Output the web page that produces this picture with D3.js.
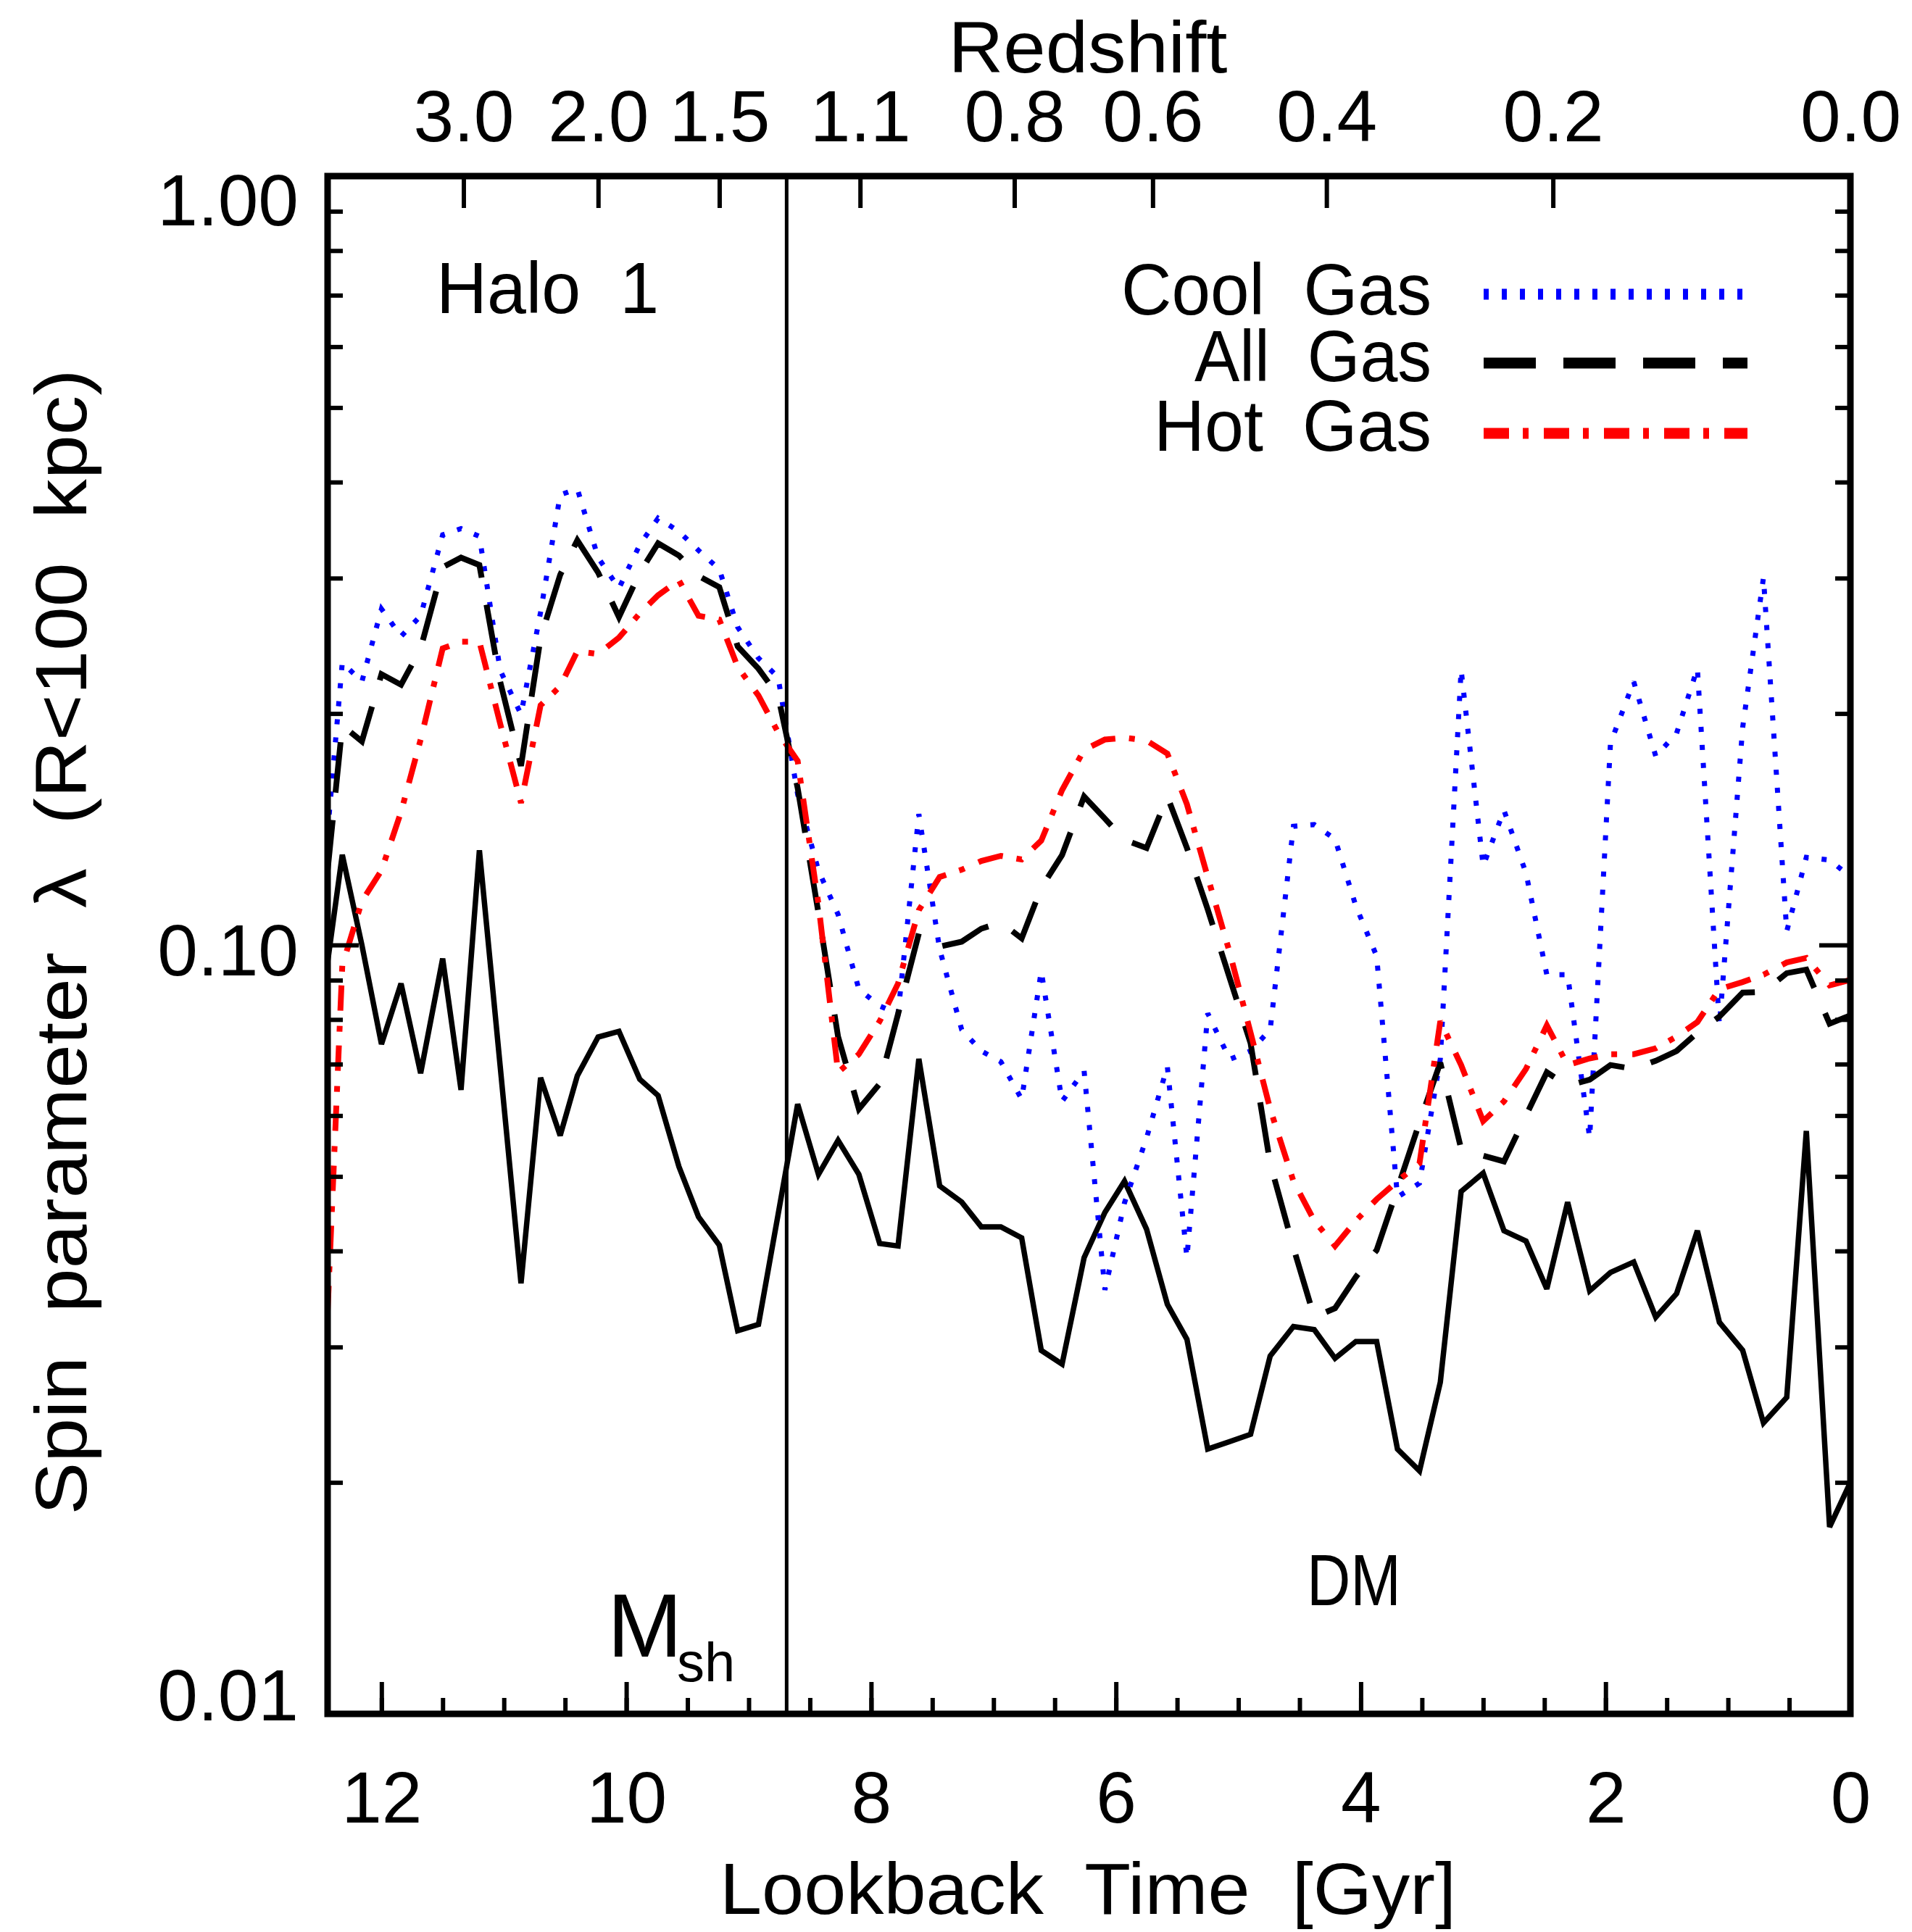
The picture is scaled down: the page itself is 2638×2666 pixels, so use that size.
<!DOCTYPE html>
<html>
<head>
<meta charset="utf-8">
<script src="https://cdn.jsdelivr.net/npm/d3@7"></script>
<style>
  html, body { margin: 0; padding: 0; background: #ffffff; }
  svg text { font-family: "Liberation Sans", Arial, sans-serif; fill: #000; }
</style>
</head>
<body>
<svg id="chart" width="2638" height="2666"></svg>
<script>
// Lookback time of each snapshot [Gyr]
const lookbackTime = [12.44, 12.32, 12.16, 12.00, 11.84, 11.68, 11.50, 11.35, 11.20, 11.03,
  10.86, 10.70, 10.54, 10.40, 10.23, 10.06, 9.89, 9.74, 9.57, 9.41,
  9.24, 9.09, 8.92, 8.76, 8.60, 8.43, 8.27, 8.10, 7.93, 7.78,
  7.61, 7.44, 7.26, 7.10, 6.94, 6.77, 6.61, 6.44, 6.26, 6.09,
  5.93, 5.75, 5.58, 5.42, 5.25, 5.07, 4.90, 4.74, 4.55, 4.38,
  4.21, 4.04, 3.87, 3.70, 3.52, 3.35, 3.18, 3.00, 2.83, 2.65,
  2.48, 2.31, 2.13, 1.96, 1.77, 1.59, 1.42, 1.25, 1.07, 0.88,
  0.71, 0.52, 0.36, 0.17, 0.00];

// Spin parameter of the dark matter within 100 kpc
const darkMatter = [0.095, 0.131, 0.100, 0.0743, 0.0891, 0.0681, 0.0960, 0.0648, 0.1328, 0.0695,
  0.0363, 0.0672, 0.0565, 0.0676, 0.0759, 0.0772, 0.0669, 0.0637, 0.0515, 0.0443,
  0.0407, 0.0315, 0.0321, 0.0446, 0.0621, 0.0503, 0.0557, 0.0503, 0.0409, 0.0406,
  0.0711, 0.0486, 0.0463, 0.0430, 0.0430, 0.0416, 0.0297, 0.0285, 0.0392, 0.0449,
  0.0493, 0.0427, 0.0341, 0.0307, 0.0221, 0.0226, 0.0231, 0.0292, 0.0319, 0.0316,
  0.0290, 0.0305, 0.0305, 0.0221, 0.0207, 0.0270, 0.0478, 0.0505, 0.0425, 0.0412,
  0.0357, 0.0463, 0.0355, 0.0375, 0.0387, 0.0328, 0.0352, 0.0425, 0.0323, 0.0297,
  0.0239, 0.0258, 0.0573, 0.0175, 0.0200];

// Spin parameter of the cool gas
const coolGas = [0.140, 0.233, 0.220, 0.2736, 0.252, 0.268, 0.3415, 0.348, 0.340, 0.2276,
  0.1995, 0.271, 0.385, 0.392, 0.319, 0.291, 0.3315, 0.359, 0.345, 0.326,
  0.308, 0.259, 0.236, 0.223, 0.157, 0.125, 0.1096, 0.0876, 0.0833, 0.0814,
  0.148, 0.0987, 0.0776, 0.0728, 0.0705, 0.063, 0.0925, 0.0626, 0.0686, 0.0356,
  0.0462, 0.0561, 0.0695, 0.0392, 0.0815, 0.071, 0.0728, 0.0776, 0.1427, 0.1434,
  0.1373, 0.1124, 0.0967, 0.047, 0.049, 0.0711, 0.228, 0.1267, 0.1497, 0.124,
  0.0915, 0.0915, 0.0561, 0.183, 0.220, 0.176, 0.1885, 0.229, 0.0786, 0.1918,
  0.3006, 0.1042, 0.130, 0.129, 0.1227];

// Spin parameter of all gas
const allGas = [0.125, 0.193, 0.184, 0.225, 0.218, 0.243, 0.310, 0.319, 0.312, 0.220,
  0.171, 0.251, 0.303, 0.336, 0.305, 0.267, 0.305, 0.333, 0.321, 0.302,
  0.292, 0.2445, 0.2287, 0.211, 0.160, 0.110, 0.076, 0.0612, 0.066, 0.0813,
  0.1035, 0.0995, 0.101, 0.105, 0.107, 0.102, 0.1187, 0.1309, 0.156, 0.146,
  0.137, 0.1337, 0.156, 0.1337, 0.1112, 0.0905, 0.0745, 0.052, 0.0404, 0.0328,
  0.0337, 0.037, 0.0401, 0.0482, 0.0588, 0.0703, 0.0543, 0.0532, 0.0523, 0.060,
  0.0683, 0.0656, 0.0668, 0.0698, 0.069, 0.0707, 0.0728, 0.0769, 0.0807, 0.0867,
  0.0869, 0.0919, 0.0929, 0.079, 0.081];

// Spin parameter of the hot gas
const hotGas = [0.0334, 0.094, 0.114, 0.125, 0.149, 0.185, 0.243, 0.248, 0.248, 0.194,
  0.153, 0.205, 0.217, 0.241, 0.239, 0.251, 0.270, 0.285, 0.298, 0.268,
  0.265, 0.230, 0.211, 0.189, 0.1735, 0.113, 0.0683, 0.0721, 0.0796, 0.0891,
  0.111, 0.1226, 0.1253, 0.1286, 0.1306, 0.1292, 0.1367, 0.159, 0.1794, 0.185,
  0.186, 0.1845, 0.1774, 0.1524, 0.1226, 0.0977, 0.0769, 0.0612, 0.0493, 0.0438,
  0.0406, 0.0438, 0.0467, 0.0493, 0.052, 0.0796, 0.0698, 0.059, 0.0626, 0.069,
  0.0786, 0.0698, 0.0712, 0.0721, 0.0721, 0.0734, 0.076, 0.0794, 0.0876, 0.0895,
  0.0915, 0.0949, 0.0962, 0.0886, 0.0901];

// Axis ticks
const timeTicks = [12, 10, 8, 6, 4, 2, 0];
const timeMinorTicks = [12.0, 11.5, 11.0, 10.5, 10.0, 9.5, 9.0, 8.5, 8.0, 7.5, 7.0, 6.5, 6.0,
  5.5, 5.0, 4.5, 4.0, 3.5, 3.0, 2.5, 2.0, 1.5, 1.0, 0.5, 0.0];
const redshiftLabels = ["3.0", "2.0", "1.5", "1.1", "0.8", "0.6", "0.4", "0.2", "0.0"];
const redshiftTimes = [11.33, 10.23, 9.24, 8.09, 6.83, 5.70, 4.28, 2.43, 0.0];
const spinTicks = [0.01, 0.1, 1];
const spinMinorTicks = [0.02, 0.03, 0.04, 0.05, 0.06, 0.07, 0.08, 0.09,
  0.2, 0.3, 0.4, 0.5, 0.6, 0.7, 0.8, 0.9];
const shockTime = 8.69;   // time marked by the vertical line

const legendNames = ["Cool Gas", "All Gas", "Hot Gas"];

// ---------------------------------------------------------------------------
const svg = d3.select("#chart");
const box = { left: 452, right: 2553, top: 243, bottom: 2365 };

const x = d3.scaleLinear().domain([12.44, 0]).range([box.left, box.right]);
const y = d3.scaleLog().domain([0.01, 1]).range([box.bottom, box.top]);

svg.append("rect").attr("width", 2638).attr("height", 2666).attr("fill", "#fff");

svg.append("clipPath").attr("id", "plotclip")
  .append("rect")
  .attr("x", box.left).attr("y", box.top)
  .attr("width", box.right - box.left).attr("height", box.bottom - box.top);

const pts = vals => lookbackTime.map((t, i) => ({ t, v: vals[i] }));
const line = d3.line().x(d => x(d.t)).y(d => y(d.v));

const plotG = svg.append("g").attr("clip-path", "url(#plotclip)");

const styles = [
  { values: coolGas, color: "#0000ff", width: 7, dash: "7 18", legendWidth: 15, legendDash: "7 18" },
  { values: allGas, color: "#000000", width: 8, dash: "70 38", legendWidth: 15, legendDash: "72 38" },
  { values: hotGas, color: "#ff0000", width: 8, dash: "35 19 8 21", legendWidth: 15, legendDash: "35 19 8 21" }
];

// dark matter: solid black
plotG.append("path")
  .attr("d", line(pts(darkMatter)))
  .attr("fill", "none").attr("stroke", "#000").attr("stroke-width", 7.5)
  .attr("stroke-linejoin", "miter").attr("stroke-miterlimit", 3);

styles.forEach(s => {
  plotG.append("path")
    .attr("d", line(pts(s.values)))
    .attr("fill", "none").attr("stroke", s.color).attr("stroke-width", s.width)
    .attr("stroke-dasharray", s.dash)
    .attr("stroke-linejoin", "miter").attr("stroke-miterlimit", 3);
});

// vertical marker
svg.append("line")
  .attr("x1", x(shockTime)).attr("x2", x(shockTime))
  .attr("y1", box.top).attr("y2", box.bottom)
  .attr("stroke", "#000").attr("stroke-width", 5);

// ---------------------------------------------------------------------------
// Axes
const FS = 100;
function styleAxis(g) {
  g.select(".domain").remove();
  g.selectAll(".tick line").attr("stroke", "#000").attr("stroke-width", 6);
  g.selectAll("text").attr("font-size", FS).attr("font-family", "Liberation Sans, Arial, sans-serif").attr("fill", "#000");
}

// bottom: lookback time
const gBotMinor = svg.append("g").attr("transform", `translate(0,${box.bottom})`)
  .call(d3.axisBottom(x).tickValues(timeMinorTicks).tickSize(-22).tickFormat(""));
styleAxis(gBotMinor);
const gBot = svg.append("g").attr("transform", `translate(0,${box.bottom})`)
  .call(d3.axisBottom(x).tickValues(timeTicks).tickSize(-44).tickFormat(d3.format("d")));
styleAxis(gBot);
gBot.selectAll("text").attr("y", 150).attr("dy", 0);

// top: redshift
const gTop = svg.append("g").attr("transform", `translate(0,${box.top})`)
  .call(d3.axisTop(x).tickValues(redshiftTimes).tickSize(-44)
    .tickFormat((d, i) => redshiftLabels[i]));
styleAxis(gTop);
gTop.selectAll("text").attr("y", -48).attr("dy", 0);

// left: spin parameter (log)
const gLeftMinor = svg.append("g").attr("transform", `translate(${box.left},0)`)
  .call(d3.axisLeft(y).tickValues(spinMinorTicks).tickSize(-21).tickFormat(""));
styleAxis(gLeftMinor);
const gLeft = svg.append("g").attr("transform", `translate(${box.left},0)`)
  .call(d3.axisLeft(y).tickValues(spinTicks).tickSize(-43).tickFormat(d3.format(".2f")));
styleAxis(gLeft);
const labelShift = { "0.01": 8, "0.10": 41, "1.00": 67 };
gLeft.selectAll("text")
  .attr("x", -40).attr("dy", 0)
  .attr("y", function () { return labelShift[this.textContent]; });

// right: mirrored ticks, no labels
const gRightMinor = svg.append("g").attr("transform", `translate(${box.right},0)`)
  .call(d3.axisRight(y).tickValues(spinMinorTicks).tickSize(-21).tickFormat(""));
styleAxis(gRightMinor);
const gRight = svg.append("g").attr("transform", `translate(${box.right},0)`)
  .call(d3.axisRight(y).tickValues(spinTicks).tickSize(-43).tickFormat(""));
styleAxis(gRight);

// frame
svg.append("rect")
  .attr("x", box.left).attr("y", box.top)
  .attr("width", box.right - box.left).attr("height", box.bottom - box.top)
  .attr("fill", "none").attr("stroke", "#000").attr("stroke-width", 9);

// ---------------------------------------------------------------------------
// Titles and annotations (wide word gaps, glyphs fitted to a given width)
function label(txt, attrs, width) {
  const t = svg.append("text").text(txt)
    .attr("font-size", FS)
    .style("word-spacing", "28px");
  Object.entries(attrs).forEach(([k, v]) => t.attr(k, v));
  if (width) t.attr("textLength", width).attr("lengthAdjust", "spacingAndGlyphs");
  return t;
}

label("Redshift", { x: 1501, y: 100, "text-anchor": "middle" }, 385);
label("Lookback Time [Gyr]", { x: 1501, y: 2641, "text-anchor": "middle" }, 1016);
label("Spin parameter λ (R<100 kpc)",
  { transform: "translate(119,1300) rotate(-90)", "text-anchor": "middle" }, 1581);
label("Halo 1", { x: 602, y: 432 }, 307);
label("DM", { x: 1803, y: 2215 }, 130);

const msh = svg.append("text").attr("x", 838).attr("y", 2286);
msh.append("tspan").text("M").attr("font-size", 124);
msh.append("tspan").text("sh").attr("font-size", 76).attr("x", 934).attr("y", 2320);

// legend
const legendRows = [406, 501, 598];
const legendBase = [434, 526, 622];
const legendTextLen = [428, 327, 383];
legendNames.forEach((name, i) => {
  label(name, { x: 1975, y: legendBase[i], "text-anchor": "end" }, legendTextLen[i]);
  svg.append("line")
    .attr("x1", 2047).attr("x2", 2411)
    .attr("y1", legendRows[i]).attr("y2", legendRows[i])
    .attr("stroke", styles[i].color).attr("stroke-width", styles[i].legendWidth)
    .attr("stroke-dasharray", styles[i].legendDash);
});
</script>
</body>
</html>
